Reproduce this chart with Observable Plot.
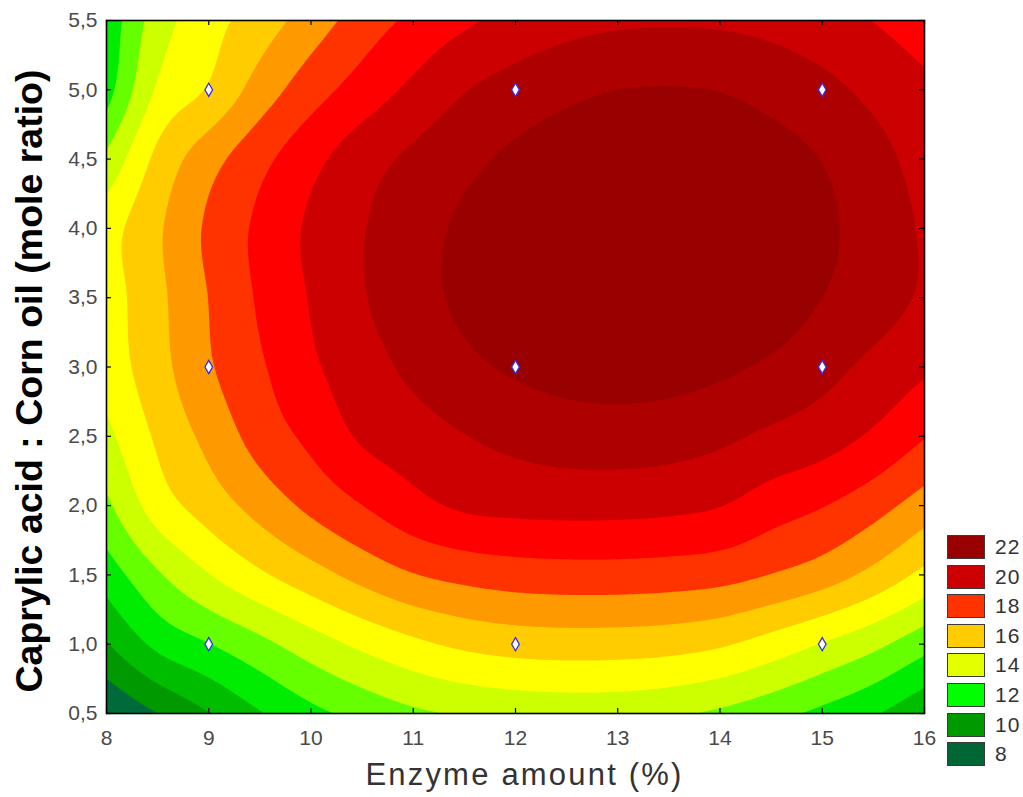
<!DOCTYPE html>
<html>
<head>
<meta charset="utf-8">
<script src="https://cdn.jsdelivr.net/npm/d3@7"></script>
<script src="https://cdn.jsdelivr.net/npm/@observablehq/plot@0.6"></script>
<style>
  body { margin: 0; background: #ffffff; font-family: "Liberation Sans", Arial, sans-serif; }
  #wrap { position: relative; width: 1023px; height: 797px; }
  #legend { position: absolute; left: 947px; top: 535px; }
  .item { display: flex; align-items: center; height: 24px; margin-bottom: 5.6px; }
  .sw { width: 38px; height: 24px; box-sizing: border-box; border: 1.5px solid #3a3a3a; }
  .lab { margin-left: 10px; font-size: 21px; color: #333; letter-spacing: 1px; }
  .xtitle text { letter-spacing: 2.2px; }
</style>
</head>
<body>
<div id="wrap"></div>
<script>
// ---- sample grid positions (Enzyme amount %, mole ratio) ----
const xSamples = [8, 8.5, 9, 9.5, 10, 10.5, 11, 11.5, 12, 12.5, 13, 13.5, 14, 14.5, 15, 15.5, 16];
const ySamples = [5.5, 5.0, 4.5, 4.0, 3.5, 3.0, 2.5, 2.0, 1.5, 1.0, 0.5];

// ---- response values, one row per mole ratio (top to bottom) ----
const r55 = [11.3, 13.48, 14.61, 15.47, 16.47, 17.45, 18.22, 18.83, 19.31, 19.64, 19.83, 19.88, 19.84, 19.67, 19.37, 18.98, 18.5];
const r50 = [11.6, 14.13, 15.1, 16.44, 17.56, 18.43, 19.22, 19.95, 20.4, 20.76, 21.0, 21.05, 20.97, 20.68, 20.28, 19.75, 19.2];
const r45 = [13.2, 15.26, 16.6, 17.7, 18.7, 19.57, 20.2, 20.74, 21.2, 21.53, 21.7, 21.73, 21.62, 21.37, 20.97, 20.35, 19.6];
const r40 = [14.55, 15.85, 17.17, 18.21, 19.17, 19.94, 20.6, 21.17, 21.61, 21.9, 22.04, 22.04, 21.9, 21.61, 21.18, 20.6, 19.87];
const r35 = [14.5, 15.75, 17.02, 18.13, 19.07, 19.92, 20.62, 21.2, 21.6, 21.86, 21.97, 21.95, 21.8, 21.55, 21.0, 20.48, 19.85];
const r30 = [14.4, 15.63, 16.88, 17.87, 18.83, 19.58, 20.22, 20.77, 21.14, 21.37, 21.45, 21.39, 21.18, 20.84, 20.34, 19.75, 19.15];
const r25 = [13.75, 15.16, 16.29, 17.4, 18.25, 19.13, 19.55, 19.97, 20.28, 20.48, 20.53, 20.44, 20.2, 19.81, 19.44, 18.85, 18.05];
const r20 = [12.8, 14.48, 15.46, 16.38, 17.24, 17.99, 18.68, 19.15, 19.28, 19.33, 19.32, 19.24, 19.03, 18.48, 18.05, 17.4, 16.53];
const r15 = [11.46, 12.87, 13.96, 14.84, 15.6, 16.33, 16.95, 17.3, 17.5, 17.57, 17.57, 17.5, 17.35, 16.97, 16.48, 15.71, 14.73];
const r10 = [9.93, 11.24, 11.97, 12.73, 13.52, 14.21, 14.78, 15.2, 15.42, 15.5, 15.48, 15.38, 15.12, 14.59, 13.95, 13.26, 12.37];
const r05 = [8.0, 9.0, 9.96, 10.92, 11.72, 12.31, 12.81, 13.1, 13.27, 13.35, 13.32, 13.15, 12.82, 12.33, 11.75, 11.1, 10.2];

// ---- contour levels and band colours (band = [level, next level)) ----
const levels = [8, 9, 10, 11, 12, 13, 14, 15, 16, 17, 18, 19, 20, 21];
const bandColors = ["url(#texGreen)", "#009900", "#00bd00", "#00ec00", "#66ff00", "#ccff00", "#ffff00",
                    "#ffcc00", "#ff9900", "#ff3300", "#ff0000", "#cc0000", "url(#texRed)", "#990000"];

// ---- legend ----
const legendLabels = ["22", "20", "18", "16", "14", "12", "10", "8"];
const legendColors = ["#990000", "#cc0000", "#ff3300", "#ffcc00", "#e4ff00", "#00ff00", "#009900", "#006633"];

// ---- axes ----
const xTicks = [8, 9, 10, 11, 12, 13, 14, 15, 16];
const yTicks = [0.5, 1.0, 1.5, 2.0, 2.5, 3.0, 3.5, 4.0, 4.5, 5.0, 5.5];
const xTitle = "Enzyme amount (%)";
const yTitle = "Caprylic acid : Corn oil (mole ratio)";

// ---- experimental design points ----
const designX = [9, 12, 15, 9, 12, 15, 9, 12, 15];
const designY = [5, 5, 5, 3, 3, 3, 1, 1, 1];

const rows = [r55, r50, r45, r40, r35, r30, r25, r20, r15, r10, r05];
const samples = rows.flatMap((row, j) => row.map((v, i) => ({x: xSamples[i], y: ySamples[j], v})));
const design = designX.map((x, i) => ({x, y: designY[i]}));

// Smooth (cubic convolution) spatial interpolator for Plot.contour's `interpolate` hook:
// renders the regular sample grid as a smooth surface that passes through every sample.
function smoothGrid(index, width, height, X, Y, V) {
  const nx = xSamples.length, ny = ySamples.length;
  const gx0 = X[0], sx = X[1] - X[0];
  const gy0 = Y[0], sy = Y[nx] - Y[0];
  const G = (i, j) => {
    if (i < 0) return 2 * G(0, j) - G(1, j);
    if (i > nx - 1) return 2 * G(nx - 1, j) - G(nx - 2, j);
    if (j < 0) return 2 * G(i, 0) - G(i, 1);
    if (j > ny - 1) return 2 * G(i, ny - 1) - G(i, ny - 2);
    return V[j * nx + i];
  };
  const weights = (f) => [
    (-f * f * f + 2 * f * f - f) / 2,
    (3 * f * f * f - 5 * f * f + 2) / 2,
    (-3 * f * f * f + 4 * f * f + f) / 2,
    (f * f * f - f * f) / 2
  ];
  const cell = (c, c0, s, n) => {
    const t = (c - c0) / s;
    const k = Math.max(0, Math.min(n - 2, Math.floor(t)));
    return [k, t - k];
  };
  const colK = new Int32Array(width), colW = [];
  for (let px = 0; px < width; px++) {
    const [k, f] = cell(px + 0.5, gx0, sx, nx);
    colK[px] = k;
    colW.push(weights(f));
  }
  const out = new Float64Array(width * height);
  const colVals = new Float64Array(nx + 2);
  for (let py = 0; py < height; py++) {
    const [jk, fy] = cell(py + 0.5, gy0, sy, ny);
    const wy = weights(fy);
    for (let i = -1; i <= nx; i++) {
      let s = 0;
      for (let b = 0; b < 4; b++) s += wy[b] * G(i, jk - 1 + b);
      colVals[i + 1] = s;
    }
    for (let px = 0; px < width; px++) {
      const k = colK[px], w = colW[px];
      out[py * width + px] = w[0] * colVals[k] + w[1] * colVals[k + 1] + w[2] * colVals[k + 2] + w[3] * colVals[k + 3];
    }
  }
  return out;
}

const plot = Plot.plot({
  width: 1023,
  height: 797,
  marginLeft: 106,
  marginRight: 99,
  marginTop: 20,
  marginBottom: 84,
  style: {fontFamily: "'Liberation Sans', Arial, sans-serif", background: "white", overflow: "visible"},
  x: {domain: [xTicks[0], xTicks[xTicks.length - 1]]},
  y: {domain: [yTicks[0], yTicks[yTicks.length - 1]]},
  color: {type: "ordinal", domain: levels, range: bandColors},
  marks: [
    Plot.contour(samples, {
      x: "x",
      y: "y",
      fill: "v",
      interpolate: smoothGrid,
      thresholds: levels,
      stroke: "none",
      clip: true
    }),
    Plot.dot(design, {x: "x", y: "y", symbol: "diamond", r: 4, fill: "white", stroke: "#3030f0", strokeWidth: 1.3}),
    Plot.tickX(xTicks, {x: d => d, insetTop: 688, stroke: "black", strokeWidth: 1.2}),
    Plot.tickX(xTicks, {x: d => d, insetBottom: 688, stroke: "black", strokeWidth: 1.2}),
    Plot.tickY(yTicks, {y: d => d, insetRight: 813, stroke: "black", strokeWidth: 1.2}),
    Plot.tickY(yTicks, {y: d => d, insetLeft: 813, stroke: "black", strokeWidth: 1.2}),
    Plot.frame({stroke: "black", strokeWidth: 1.6}),
    Plot.axisX(xTicks, {anchor: "bottom", tickSize: 0, tickPadding: 17, fontSize: 21, fill: "#4a4a4a", label: null}),
    Plot.axisY(yTicks, {anchor: "left", tickSize: 0, tickPadding: 9, fontSize: 21, fill: "#4a4a4a", label: null,
      tickFormat: d => d.toFixed(1).replace(".", ",")}),
    Plot.text([xTitle], {frameAnchor: "bottom", dx: 9, dy: 62, fontSize: 31, fill: "#333333", lineAnchor: "middle", textAnchor: "middle", className: "xtitle"}),
    Plot.text([yTitle], {frameAnchor: "left", dx: -77, dy: 14, rotate: -90, fontSize: 37.5, fontWeight: "bold", fill: "#000000", lineAnchor: "middle", textAnchor: "middle"})
  ]
});

plot.insertAdjacentHTML("afterbegin",
  `<defs>
    <pattern id="texRed" width="2" height="2" patternUnits="userSpaceOnUse">
      <rect width="2" height="2" fill="#c40000"/>
      <rect width="1" height="1" fill="#990000"/>
      <rect x="1" y="1" width="1" height="1" fill="#990000"/>
    </pattern>
    <pattern id="texGreen" width="2" height="2" patternUnits="userSpaceOnUse">
      <rect width="2" height="2" fill="#005c36"/>
      <rect width="1" height="1" fill="#009944"/>
      <rect x="1" y="1" width="1" height="1" fill="#005c36"/>
    </pattern>
  </defs>`);

const wrap = document.getElementById("wrap");
wrap.appendChild(plot);

const legend = document.createElement("div");
legend.id = "legend";
legendLabels.forEach((lab, i) => {
  const item = document.createElement("div");
  item.className = "item";
  const sw = document.createElement("div");
  sw.className = "sw";
  sw.style.background = legendColors[i];
  const t = document.createElement("span");
  t.className = "lab";
  t.textContent = lab;
  item.appendChild(sw);
  item.appendChild(t);
  legend.appendChild(item);
});
wrap.appendChild(legend);
</script>
</body>
</html>
